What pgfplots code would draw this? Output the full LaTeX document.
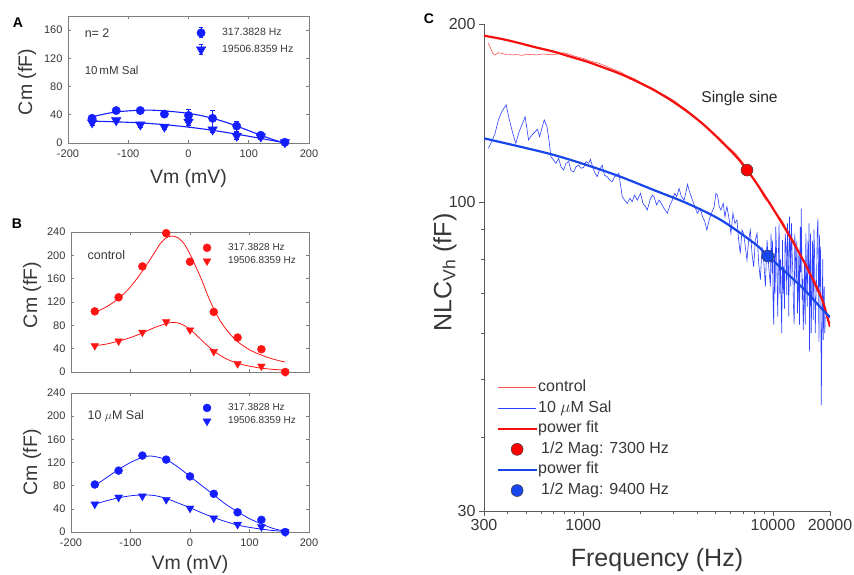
\documentclass[border=0pt]{standalone}
\usepackage{pgfplots}
\pgfplotsset{compat=1.18}
\usepackage{fontspec}
\setmainfont{Liberation Sans}
\definecolor{mblue}{RGB}{20,30,255}
\definecolor{mred}{RGB}{255,20,20}
\definecolor{fitred}{RGB}{245,15,15}
\definecolor{thinred}{RGB}{255,80,80}
\definecolor{fitblue}{RGB}{25,70,235}
\definecolor{thinblue}{RGB}{45,65,255}
\definecolor{framegray}{RGB}{125,125,125}
\definecolor{tgray}{RGB}{55,55,55}
\definecolor{cgray}{RGB}{90,90,90}

\pgfplotsset{
  panelAB/.style={
    scale only axis,
    xmin=-200, xmax=200, ymin=0,
    xtick={-200,-100,0,100,200},
    tick align=inside,
    major tick length=3pt,
    axis line style={framegray, line width=0.7pt},
    tick style={framegray, line width=0.6pt},
    tick label style={font=\fontsize{11}{12}\selectfont, text=tgray},
    xticklabel style={yshift=-3pt},
    yticklabel style={xshift=-2pt},
    /pgf/number format/assume math mode=true,
    ylabel={Cm (fF)},
    label style={font=\fontsize{19.5}{22}\selectfont, text=tgray},
    clip mode=individual,
    legend style={draw=none, fill=none, inner sep=0pt, outer sep=0pt, anchor=north west,
        font=\fontsize{10.5}{12}\selectfont, text=tgray, row sep=3pt,
        nodes={inner sep=1pt, text height=7.8pt, text depth=2.4pt}},
    legend cell align=left,
  },
  dmark/.style={only marks, mark=*, mark size=4.2pt, color=#1},
  tmark/.style={only marks, mark=triangle*, mark size=5pt, color=#1, mark options={rotate=180}},
}

\begin{document}
\begin{tikzpicture}
\path[use as bounding box] (0,0) rectangle (854pt,574pt);

% ---------------- Panel A ----------------
\begin{axis}[panelAB, at={(68pt,431pt)}, anchor=south west, width=241pt, height=127pt,
  ymax=180, ytick={0,40,...,160},
  xlabel={Vm (mV)},
  xlabel style={at={(axis description cs:0.5,-0.276)}, anchor=center},
  ylabel style={at={(axis description cs:-0.17,0.48)}, anchor=center},
  legend style={at={(axis description cs:0.519,0.915)}, row sep=4.5pt},
  legend image code/.code={%
    \path[draw=none, fill=none] (0pt,-6pt) (28pt,6pt);
    \draw[mblue, line width=0.8pt] (8pt,-5pt)--(8pt,5pt) (6pt,5pt)--(10pt,5pt) (6pt,-5pt)--(10pt,-5pt);
    \draw[mark repeat=2,mark phase=2,#1] plot coordinates {(0pt,0pt)(8pt,0pt)(16pt,0pt)};},
]
\addplot[dmark=mblue, mark size=4.2pt, error bars/.cd, y dir=both, y explicit,
  error bar style={mblue, line width=0.8pt}, error mark options={rotate=90, mark size=2.5pt, mblue}]
  coordinates {(-160,35) +- (0,4) (-120,46) +- (0,3) (-80,46) +- (0,3) (-40,41) +- (0,3)
  (0,39) +- (0,9) (40,35) +- (0,12) (80,24) +- (0,7) (120,11) +- (0,3) (160,1) +- (0,2)};
\addlegendentry{317.3828 Hz}
\addplot[tmark=mblue, mark size=5.5pt, error bars/.cd, y dir=both, y explicit,
  error bar style={mblue, line width=0.8pt}, error mark options={rotate=90, mark size=2.5pt, mblue}]
  coordinates {(-160,29) +- (0,4) (-120,32) +- (0,3) (-80,26) +- (0,3) (-40,23) +- (0,3)
  (0,30) +- (0,5) (40,19) +- (0,4) (80,10) +- (0,5) (120,9) +- (0,3) (160,1) +- (0,2)};
\addlegendentry{19506.8359 Hz}
\addplot[mblue, line width=1.1pt, smooth, forget plot] coordinates {(-160,37) (-140,41) (-120,44) (-100,45.5) (-80,46.5) (-60,46.5) (-40,45.5) (-20,44) (0,42) (20,39) (40,35) (60,30) (80,24) (100,17.5) (120,11) (140,5) (155,1)};
\addplot[mblue, line width=1.1pt, smooth, forget plot] coordinates {(-160,31) (-120,30) (-80,28.5) (-40,26) (0,22.5) (40,18) (80,12.5) (120,6.5) (155,1)};
\node[anchor=west, font=\fontsize{12.5}{14}\selectfont, text=tgray] at (rel axis cs:0.055,0.866) {n= 2};
\node[anchor=west, font=\fontsize{11.5}{14}\selectfont, text=tgray] at (rel axis cs:0.055,0.575) {10\,mM Sal};
\end{axis}

% ---------------- Panel B top ----------------
\begin{axis}[panelAB, at={(71pt,202pt)}, anchor=south west, width=238pt, height=140pt,
  ymax=240, ytick={0,40,...,240}, xticklabels={},
  ylabel style={at={(axis description cs:-0.164,0.55)}, anchor=center},
  legend style={at={(axis description cs:0.538,0.929)}, font=\fontsize{10}{11}\selectfont, row sep=1.5pt,
     nodes={inner sep=1pt, text height=7.5pt, text depth=2.3pt}},
  legend image code/.code={%
    \path[draw=none, fill=none] (0pt,-4pt) (28pt,4pt);
    \draw[mark repeat=2,mark phase=2,#1] plot coordinates {(0pt,0pt)(8pt,0pt)(16pt,0pt)};},
]
\addplot[dmark=mred, mark size=4pt] coordinates {(-160,104) (-120,128) (-80,181) (-40,238) (0,189) (40,103) (80,59) (120,39) (160,0)};
\addlegendentry{317.3828 Hz}
\addplot[tmark=mred, mark size=4.4pt] coordinates {(-160,45) (-120,53) (-80,68) (-40,86) (0,72) (40,35) (80,14) (120,10) (160,0)};
\addlegendentry{19506.8359 Hz}
\addplot[mred, line width=0.8pt, smooth, forget plot] coordinates {(-160,102) (-140,112) (-120,126) (-100,146) (-80,173) (-60,204) (-50,220) (-40,230) (-30,233) (-20,230) (-10,220) (0,202) (10,180) (20,157) (30,131) (40,108) (50,89) (60,74) (70,62) (80,52) (100,38) (120,29) (140,22) (160,17)};
\addplot[mred, line width=0.8pt, smooth, forget plot] coordinates {(-160,45) (-140,48) (-120,53) (-100,59) (-80,67) (-60,76) (-40,83) (-30,85) (-20,84) (-10,80) (0,73) (10,64) (20,54) (40,36) (60,23) (80,15) (100,10) (120,6.5) (140,4.5) (160,3)};
\node[anchor=west, font=\fontsize{12.5}{14}\selectfont, text=tgray] at (rel axis cs:0.055,0.836) {control};
\end{axis}

% ---------------- Panel B bottom ----------------
\begin{axis}[panelAB, at={(71pt,42pt)}, anchor=south west, width=238pt, height=139pt,
  ymax=240, ytick={0,40,...,240},
  xlabel={Vm (mV)},
  xlabel style={at={(axis description cs:0.5,-0.237)}, anchor=center},
  ylabel style={at={(axis description cs:-0.164,0.5)}, anchor=center},
  legend style={at={(axis description cs:0.538,0.935)}, font=\fontsize{10}{11}\selectfont, row sep=1.5pt,
     nodes={inner sep=1pt, text height=7.5pt, text depth=2.3pt}},
  legend image code/.code={%
    \path[draw=none, fill=none] (0pt,-4pt) (28pt,4pt);
    \draw[mark repeat=2,mark phase=2,#1] plot coordinates {(0pt,0pt)(8pt,0pt)(16pt,0pt)};},
]
\addplot[dmark=mblue, mark size=4pt] coordinates {(-160,82) (-120,106) (-80,132) (-40,125) (0,96) (40,66) (80,34) (120,21) (160,0)};
\addlegendentry{317.3828 Hz}
\addplot[tmark=mblue, mark size=4.6pt] coordinates {(-160,48) (-120,60) (-80,62) (-40,56) (0,41) (40,24) (80,13) (120,9) (160,0)};
\addlegendentry{19506.8359 Hz}
\addplot[mblue, line width=0.8pt, smooth, forget plot] coordinates {(-160,80) (-140,94) (-120,108) (-100,120) (-80,129) (-70,131) (-60,130.5) (-40,125) (-20,112) (0,96) (20,80) (40,64) (60,48) (80,35) (100,23) (120,14) (140,6) (160,1)};
\addplot[mblue, line width=0.8pt, smooth, forget plot] coordinates {(-160,48) (-140,54) (-120,59) (-100,62.5) (-80,64) (-60,63) (-40,58) (-20,50) (0,42) (20,33) (40,25) (60,18) (80,12) (100,8) (120,5) (140,2.5) (160,1)};
\node[anchor=west, font=\fontsize{12.5}{14}\selectfont, text=tgray] at (rel axis cs:0.055,0.835) {10 $\mu$M Sal};
\end{axis}

% ---------------- Panel C ----------------
\begin{axis}[at={(484pt,63pt)}, anchor=south west, scale only axis, width=346pt, height=487pt,
  xmode=log, ymode=log, xmin=300, xmax=20000, ymin=30, ymax=200,
  axis x line*=bottom, axis y line*=left,
  xtick={300,1000,10000,20000}, xticklabels={300,1000,10000,20000},
  minor xtick={400,500,600,700,800,900,2000,3000,4000,5000,6000,7000,8000,9000},
  ytick={30,100,200}, yticklabels={30,100,200},
  minor ytick={40,50,60,70,80,90},
  tick align=outside, major tick length=5pt, minor tick length=3pt,
  axis line style={cgray, line width=0.8pt}, tick style={cgray, line width=0.8pt},
  tick label style={font=\fontsize{16}{18}\selectfont, text=tgray},
  xlabel={Frequency (Hz)}, ylabel={NLC\textsubscript{Vh} (fF)},
  label style={font=\fontsize{25}{28}\selectfont, text=tgray},
  xlabel style={at={(axis description cs:0.5,-0.1)}, anchor=center},
  ylabel style={at={(axis description cs:-0.113,0.49)}, anchor=center},
  clip mode=individual,
  legend style={draw=none, fill=none, inner sep=0pt, outer sep=0pt, anchor=north west,
     at={(axis description cs:0.0376,0.272)}, font=\fontsize{16}{18}\selectfont, text=tgray,
     row sep=2.6pt, nodes={inner sep=1pt, text height=12pt, text depth=4pt}},
  legend cell align=left,
  legend image code/.code={%
    \draw[mark repeat=2,mark phase=2,#1] plot coordinates {(0pt,0pt)(19pt,0pt)(38pt,0pt)};},
]
\addplot[thinred, line width=0.6pt] coordinates {
(316.3,185.5) (325.4,181.9) (333.4,178.4) (343.0,177.3) (357.3,178.8) (372.1,178.4) (387.5,177.7) (403.6,177.9) (420.3,177.3) (446.7,177.5) (474.8,177.0) (504.6,177.7) (536.3,177.5) (569.8,177.3) (605.8,177.9) (643.8,177.7) (684.2,177.3) (727.2,177.9) (757.3,178.4) (788.8,178.8) (838.3,177.9) (891.0,176.6) (946.8,175.7) (1006.2,174.8) (1069.5,173.4) (1136.7,172.5) (1208.0,171.6) (1283.8,170.3) (1364.7,168.9) (1450.4,167.6) (1510.4,166.5) (1572.7,165.9) (1671.8,164.0) (1776.9,162.5) (1888.4,161.2) (2007.1,159.1) (2133.2,157.5) (2267.2,156.3) (2409.6,154.6) (2560.9,152.6) (2721.8,151.2) (2892,149.5) (3074.0,147.7) (3267.0,145.3) (3472.1,143.6) (3690.3,141.2) (3922.1,139.0) (4168.5,136.7) (4430.3,134.4) (4708.7,131.7) (5004.3,129.8) (5318.6,127.6) (5652.4,124.9) (6007.5,122.8) (6384.5,120.6) (6785.9,117.7) (7212.0,114.7) (7511.0,111.8) (7822.3,109.6) (8146.2,107.8) (8483.7,105.4) (8835.2,102.7) (9200.8,100.7) (9582.5,100.1) (9979.4,97.5) (10392.8,95.7) (10823.6,94.2) (11272.4,92.6) (11739.2,90.2) (11982,89.6) (12476.9,87.1) (12993.8,85.6) (13532.4,82.9) (14095.4,80.6) (14679.4,79.2) (15287.4,77.2) (15921.2,75.2) (16582.2,73.8) (17269.3,71.7) (17984.5,70.0)};
\addlegendentry{control}
\addplot[thinblue, line width=0.6pt] coordinates {
(316.3,123.2) (329.3,126.5) (343.0,130.6) (357.3,137.6) (372.1,142.1) (392.3,145.9) (408.5,137.6) (425.5,130.6) (441.3,125.6) (459.6,131.5) (478.6,135.8) (494.4,139.4) (504.6,133.2) (514.9,127.3) (536.3,129.8) (558.5,131.5) (574.6,132.7) (588.8,128.9) (605.8,133.2) (623.2,137.6) (643.8,134.1) (659.7,127.3) (676.0,119.3) (698.3,117.7) (718.4,116.2) (742.1,118.5) (763.5,114.7) (788.8,113.2) (811.5,116.2) (838.3,117.0) (862.5,112.9) (891.0,112.5) (916.7,114.7) (946.8,115.4) (974.1,114.0) (1006.2,114.4) (1035.3,117.0) (1069.5,116.2) (1091.4,118.1) (1127.5,114.0) (1155.3,111.8) (1183.8,110.3) (1217.9,113.2) (1258.1,115.4) (1294.4,111.0) (1337.2,110.3) (1381.4,108.9) (1421.2,108.2) (1462.2,110.3) (1510.4,111.0) (1541.4,111.8) (1573.0,106.8) (1605.3,102.1) (1651.6,100.7) (1706.1,99.4) (1762.5,101.4) (1813.3,100.1) (1865.6,102.7) (1927.2,100.7) (2007.1,103.4) (2064.9,99.4) (2133.2,98.2) (2176.9,96.9) (2248.9,100.7) (2313.7,102.7) (2361.2,102.1) (2439.2,98.8) (2509.6,100.7) (2581.8,99.4) (2667.1,97.5) (2777.6,95.7) (2869.3,98.8) (2951.7,100.7) (3036.8,103.4) (3111.7,102.1) (3201.4,105.4) (3293.6,102.1) (3402.3,100.7) (3500.4,104.7) (3543.3,107.1) (3660.5,103.4) (3766.0,100.7) (3874.6,98.2) (4002.6,95.7) (4134.8,97.5) (4254.2,94.4) (4376.7,92.6) (4484.6,89.6) (4614.0,93.2) (4747.0,95.7) (4903.7,98.2) (5004.3,103.4) (5107.0,102.7) (5211.7,98.2) (5318.6,96.9) (5471.9,99.4) (5584.1,94.4) (5721.7,98.2) (5886.7,93.2) (6007.5,88.5) (6155.6,95.7) (6307.4,92.0) (6463.3,93.2) (6595.8,86.2) (6731.1,81.8) (6869.1,89.6) (7010.0,88.5) (7153.8,84.0) (7300.4,79.7) (7450.2,86.2) (7603.0,89.6) (7758.9,81.8) (7918.0,77.7) (8080.4,86.2) (8245.9,88.5) (8415.0,78.7) (8587.6,73.8) (8763.7,84.0) (8943.5,79.7) (9126.9,71.9) (9313.9,86.2) (9504.9,77.7) (9699.8,71.9) (9779.0,88.5) (9838,82) (9898.7,75.7) (9959,86) (10019.9,67.4) (10100,62) (10183.8,81.8) (10267,70) (10350.8,90.8) (10435,84) (10520.2,73.8) (10606,64) (10692.6,81.8) (10780,92) (10867.6,70.0) (10956,80) (11045.7,67.8) (11136,60) (11226.5,86.2) (11318,70) (11410.6,77.7) (11504,66) (11597.3,88.5) (11716,84) (11835.2,69.6) (11932,92) (12029.0,79.7) (12127,64) (12226.1,94.4) (12326,86) (12426.2,71.9) (12528,92) (12629.8,81.8) (12733,76) (12836.6,66.5) (12942,62) (13046.8,88.5) (13153,80) (13260.4,73.8) (13369,86) (13477.7,64.8) (13588,70) (13698.3,81.8) (13811,62) (13924.8,90.8) (14010,76) (14095.4,97.5) (14181,84) (14268.1,68.2) (14355,74) (14442.9,60.7) (14561,66) (14679.4,79.7) (14800,62) (14919.9,88.5) (15042,74) (15164.3,66.5) (15288,86) (15412.8,75.7) (15507,92) (15601.8,55.8) (15697,70) (15793.0,88.5) (15922,60) (16052.0,71.9) (16183,86) (16314.8,63.1) (16448,90) (16582.2,81.8) (16718,60) (16853.6,68.2) (16991,74) (17129.6,88.5) (17269.3,93.8) (17375,76) (17480.9,58.0) (17588,88) (17695.1,71.9) (17840,84) (17984.5,45.3) (18095,56) (18204.9,68.2) (18316,80) (18427.9,58.4) (18541,66) (18653.6,71.9) (18768,60) (18882.1,63.9)};
\addlegendentry{10 $\mu$M Sal}
\addplot[fitred, line width=2.2pt, smooth] coordinates {(300,191.1) (379.7,188.4) (465.1,185.5) (569.8,182.4) (698,179.6) (855.3,176.1) (1047.8,172.7) (1283.8,168.7) (1572.7,164.6) (1926.8,159.8) (2360.6,154.6) (2892,148.7) (3543,142.1) (4341,134.9) (5318,126.8) (6516,118.6) (7300,113.2) (7983,108.9) (9779,98.6) (11982,88.6) (14679,78.9) (17984,68.9) (19113,64.8) (20000,61.5)};
\addlegendentry{power fit}
\addplot[only marks, mark=*, mark size=6pt, mark options={draw=black!75, fill=red, line width=0.5pt}] coordinates {(7300,113.2)};
\addlegendentry{\hspace{3pt}1/2 Mag: 7300 Hz}
\addplot[fitblue, line width=2.2pt, smooth] coordinates {(300,128.1) (465.1,124.0) (698,120.1) (1047.8,115.4) (1572.7,110.3) (2360.6,104.7) (3543,99.4) (5318,93.2) (7983,85.1) (9505,80.8) (11982,75.5) (14679,71.0) (17984,66.1) (20000,63.8)};
\addlegendentry{power fit}
\addplot[only marks, mark=*, mark size=6pt, mark options={draw=black!75, fill=fitblue, line width=0.5pt}] coordinates {(9400,81)};
\addlegendentry{\hspace{3pt}1/2 Mag: 9400 Hz}
\node[anchor=west, font=\fontsize{15.6}{18}\selectfont, text=black!85] at (rel axis cs:0.618,0.848) {Single sine};
\end{axis}

\node[font=\bfseries\fontsize{14}{14}\selectfont] at (18pt,551pt) {A};
\node[font=\bfseries\fontsize{14}{14}\selectfont] at (17pt,350pt) {B};
\node[font=\bfseries\fontsize{14}{14}\selectfont] at (429pt,555pt) {C};
\end{tikzpicture}
\end{document}
